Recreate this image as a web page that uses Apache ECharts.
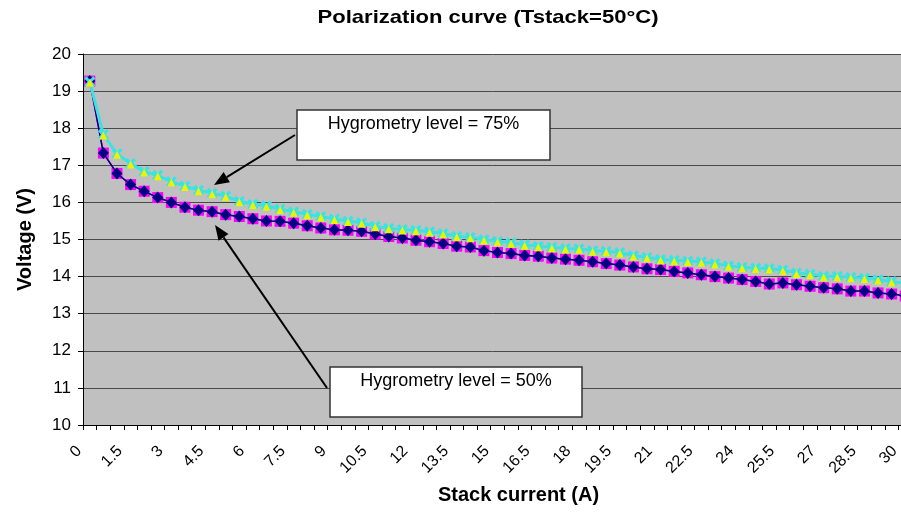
<!DOCTYPE html>
<html>
<head>
<meta charset="utf-8">
<script src="https://cdn.jsdelivr.net/npm/echarts@6/dist/echarts.min.js"></script>
<style>
html,body{margin:0;padding:0;background:#fff;}
#chart{width:901px;height:513px;}
</style>
</head>
<body>
<div id="chart"></div>
<script>
// Stack current categories (A)
const currents = [0,0.5,1,1.5,2,2.5,3,3.5,4,4.5,5,5.5,6,6.5,7,7.5,8,8.5,9,9.5,10,10.5,11,11.5,12,12.5,13,13.5,14,14.5,15,15.5,16,16.5,17,17.5,18,18.5,19,19.5,20,20.5,21,21.5,22,22.5,23,23.5,24,24.5,25,25.5,26,26.5,27,27.5,28,28.5,29,29.5,30];
// Voltage (V), hygrometry level 50%
const hyg50 = [19.27,17.33,16.78,16.48,16.30,16.13,16.00,15.87,15.79,15.75,15.67,15.62,15.56,15.50,15.49,15.44,15.37,15.31,15.26,15.25,15.22,15.15,15.08,15.04,14.98,14.94,14.89,14.82,14.80,14.70,14.65,14.62,14.57,14.55,14.50,14.47,14.44,14.40,14.35,14.31,14.26,14.21,14.19,14.14,14.10,14.05,14.00,13.96,13.92,13.87,13.80,13.83,13.78,13.74,13.70,13.67,13.61,13.61,13.56,13.53,13.48];
// Voltage (V), hygrometry level 75%
const hyg75 = [19.25,17.83,17.31,17.05,16.83,16.73,16.56,16.44,16.33,16.25,16.17,16.03,15.95,15.91,15.82,15.75,15.68,15.62,15.55,15.50,15.45,15.36,15.30,15.27,15.25,15.21,15.16,15.09,15.06,15.00,14.95,14.91,14.86,14.82,14.79,14.76,14.75,14.70,14.68,14.65,14.56,14.52,14.46,14.44,14.42,14.40,14.35,14.29,14.25,14.23,14.22,14.18,14.10,14.07,14.01,14.01,13.98,13.96,13.92,13.87,13.82];
const titleText = 'Polarization curve (Tstack=50°C)';
const xTitle = 'Stack current (A)';
const yTitle = 'Voltage (V)';
const note75 = 'Hygrometry level = 75%';
const note50 = 'Hygrometry level = 50%';

const FONT = '"Liberation Sans", Arial, Helvetica, sans-serif';
const X_SYMBOL = 'path://M0,2 L2,0 L5,3 L8,0 L10,2 L7,5 L10,8 L8,10 L5,7 L2,10 L0,8 L3,5 Z';

function arrow(x1, y1, x2, y2) {
  const dx = x2 - x1, dy = y2 - y1;
  const len = Math.sqrt(dx*dx + dy*dy);
  const ux = dx/len, uy = dy/len;
  const hl = 15, hw = 6;
  const bx = x2 - ux*hl, by = y2 - uy*hl;
  const nx = -uy, ny = ux;
  return [
    {type:'line', shape:{x1:x1, y1:y1, x2:bx, y2:by}, style:{stroke:'#000', lineWidth:2}, z:100},
    {type:'polygon', shape:{points:[[x2,y2],[bx+nx*hw,by+ny*hw],[bx-nx*hw,by-ny*hw]]}, style:{fill:'#000'}, z:100}
  ];
}

function box(x, y, w, h, text) {
  return [
    {type:'rect', shape:{x:x, y:y, width:w, height:h}, style:{fill:'#fff', stroke:'#333', lineWidth:1.5}, z:100},
    {type:'text', x:x + w/2, y:y + 14, style:{text:text, font:'18px ' + FONT, fill:'#000', textAlign:'center', textVerticalAlign:'middle'}, z:101}
  ];
}

const chart = echarts.init(document.getElementById('chart'), null, {renderer:'canvas'});
const option = {
  animation: false,
  backgroundColor: '#fff',
  grid: {left: 83, width: 829, top: 54, height: 371, show: true, backgroundColor: '#c0c0c0', borderWidth: 0,
    containLabel: false, outerBoundsMode: 'none'},
  xAxis: {
    type: 'category', data: currents, boundaryGap: true,
    name: xTitle, nameLocation: 'middle', nameGap: 60,
    nameTextStyle: {fontFamily: FONT, fontSize: 20, fontWeight: 'bold', color: '#000', padding: [0, 0, 0, 42]},
    axisLine: {lineStyle: {color: '#000', width: 1}},
    axisTick: {show: true, interval: 0, length: 5, lineStyle: {color: '#000'}},
    axisLabel: {interval: 2, rotate: 45, fontFamily: FONT, fontSize: 16, color: '#000', margin: 13,
      padding: [0, 15, 0, 0], hideOverlap: false,
      formatter: function (v) { return String(v); }},
    splitLine: {show: false}
  },
  yAxis: {
    type: 'value', min: 10, max: 20, interval: 1,
    name: yTitle, nameLocation: 'middle', nameGap: 48, nameRotate: 90,
    nameTextStyle: {fontFamily: FONT, fontSize: 20, fontWeight: 'bold', color: '#000'},
    axisLine: {show: true, lineStyle: {color: '#000', width: 1}},
    axisTick: {show: true, length: 5, lineStyle: {color: '#000'}},
    axisLabel: {fontFamily: FONT, fontSize: 17, color: '#000', margin: 12},
    splitLine: {show: true, lineStyle: {color: '#4a4a4a', width: 1}}
  },
  series: [
    {type: 'line', data: hyg50, symbol: 'rect', symbolSize: 11, showAllSymbol: true,
      itemStyle: {color: '#ff00ff'}, lineStyle: {color: '#ff00ff', width: 1.5}, z: 2},
    {type: 'line', data: hyg50, symbol: 'diamond', symbolSize: [11, 12], showAllSymbol: true,
      itemStyle: {color: '#000080'}, lineStyle: {color: '#000080', width: 1.5}, z: 3},
    {type: 'line', data: hyg75, symbol: X_SYMBOL, symbolSize: 11, showAllSymbol: true,
      itemStyle: {color: '#33e6e6'}, lineStyle: {color: '#40e0e0', width: 3}, z: 4},
    {type: 'line', data: hyg75, symbol: 'triangle', symbolSize: [8, 8], symbolOffset: [0, 1], showAllSymbol: true,
      itemStyle: {color: '#f0f000'}, lineStyle: {opacity: 0}, z: 5}
  ],
  graphic: [].concat(
    [{type:'text', x:488, y:18, scaleX:1.16, scaleY:1, style:{text:titleText, font:'bold 19px ' + FONT, fill:'#000', textAlign:'center', textVerticalAlign:'middle'}, z:100}],
    box(297, 110, 253, 50, note75),
    arrow(295, 135, 214, 185),
    box(330, 367, 252, 50, note50),
    arrow(327, 388, 215, 225)
  )
};
chart.setOption(option);
</script>
</body>
</html>
